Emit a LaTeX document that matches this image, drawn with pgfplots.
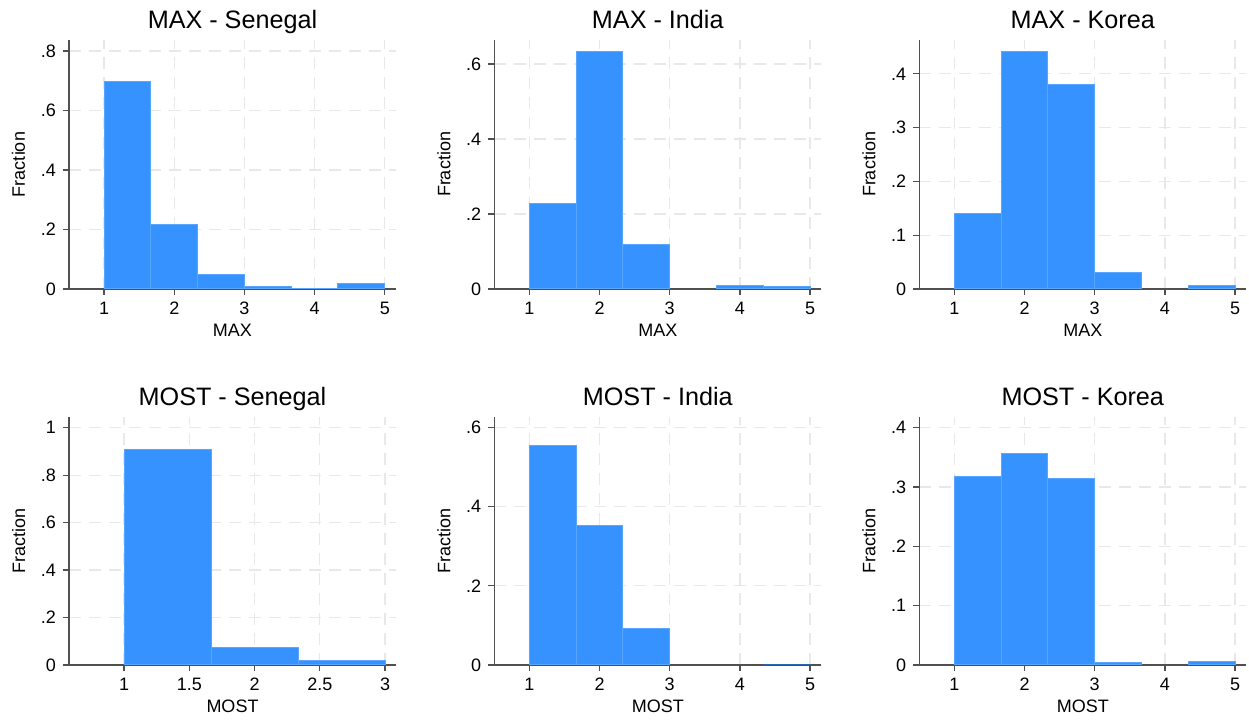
\documentclass[border=0pt]{standalone}
\usepackage{fontspec}
\setmainfont{Liberation Sans}
\usepackage{pgfplots}
\pgfplotsset{compat=1.18}
\definecolor{barfill}{HTML}{3592FF}
\definecolor{baredge}{HTML}{5AA6FF}
\definecolor{axgray}{HTML}{505050}
\definecolor{gridgray}{HTML}{E8E8E8}
\pgfplotsset{
  every axis title shift=0pt,
  statapanel/.style={
    scale only axis, width=163.5pt, anchor=south west,
    axis lines*=left,
    axis line style={draw=axgray, line width=0.6pt},
    tick align=outside, major tick length=3pt,
    tick style={draw=axgray, line width=0.6pt},
    grid=major,
    major grid style={dash pattern=on 6pt off 4pt, draw=gridgray, line width=0.6pt},
    ymin=0,
    ylabel={Fraction},
    /pgf/number format/assume math mode=true,
    tick label style={font=\fontsize{9}{10}\selectfont},
    label style={font=\fontsize{9}{10}\selectfont},
    title style={font=\fontsize{12.6}{14}\selectfont, at={([yshift=5.5pt]axis description cs:0.5,1)}, anchor=base, yshift=0pt},
    xlabel style={at={([yshift=-24pt]axis description cs:0.5,0)}, anchor=base},
    ylabel style={at={([xshift=-22pt]axis description cs:0,0.5)}, anchor=base},
  },
  histbar/.style={ybar interval, fill=barfill, draw=baredge, line width=0.5pt},
}
\begin{document}
\begin{tikzpicture}
\path[use as bounding box] (0,0) rectangle (624.5pt,360.5pt);
% ---------------- Row 1 ----------------
\begin{axis}[statapanel, at={(34.5pt,216pt)}, height=124.5pt,
  title={MAX - Senegal}, xlabel={MAX},
  xmin=0.5, xmax=5.16, ymax=0.837,
  xtick={1,2,3,4,5}, xticklabels={1,2,3,4,5},
  ytick={0,0.2,0.4,0.6,0.8}, yticklabels={0,.2,.4,.6,.8}]
\addplot[histbar] coordinates {(1,0.699) (1.6667,0.2175) (2.3333,0.049) (3,0.009) (3.6667,0.003) (4.3333,0.017) (5,0.017)};
\end{axis}
\begin{axis}[statapanel, at={(247.15pt,216pt)}, height=124.5pt,
  title={MAX - India}, xlabel={MAX},
  xmin=0.5, xmax=5.16, ymax=0.664,
  xtick={1,2,3,4,5}, xticklabels={1,2,3,4,5},
  ytick={0,0.2,0.4,0.6}, yticklabels={0,.2,.4,.6}]
\addplot[histbar] coordinates {(1,0.229) (1.6667,0.634) (2.3333,0.119) (3,0)};
\addplot[histbar] coordinates {(3.6667,0.009) (4.3333,0.007) (5,0.007)};
\end{axis}
\begin{axis}[statapanel, at={(459.65pt,216pt)}, height=124.5pt,
  title={MAX - Korea}, xlabel={MAX},
  xmin=0.5, xmax=5.16, ymax=0.463,
  xtick={1,2,3,4,5}, xticklabels={1,2,3,4,5},
  ytick={0,0.1,0.2,0.3,0.4}, yticklabels={0,.1,.2,.3,.4}]
\addplot[histbar] coordinates {(1,0.1395) (1.6667,0.442) (2.3333,0.381) (3,0.031) (3.6667,0)};
\addplot[histbar] coordinates {(4.3333,0.0068) (5,0.0068)};
\end{axis}
% ---------------- Row 2 ----------------
\begin{axis}[statapanel, at={(34.5pt,28pt)}, height=124pt,
  title={MOST - Senegal}, xlabel={MOST},
  xmin=0.578, xmax=3.084, ymax=1.045,
  xtick={1,1.5,2,2.5,3}, xticklabels={1,1.5,2,2.5,3},
  ytick={0,0.2,0.4,0.6,0.8,1}, yticklabels={0,.2,.4,.6,.8,1}]
\addplot[histbar] coordinates {(1,0.907) (1.6667,0.073) (2.3333,0.017) (3,0.017)};
\end{axis}
\begin{axis}[statapanel, at={(247.15pt,28pt)}, height=124pt,
  title={MOST - India}, xlabel={MOST},
  xmin=0.5, xmax=5.16, ymax=0.627,
  xtick={1,2,3,4,5}, xticklabels={1,2,3,4,5},
  ytick={0,0.2,0.4,0.6}, yticklabels={0,.2,.4,.6}]
\addplot[histbar] coordinates {(1,0.555) (1.6667,0.353) (2.3333,0.091) (3,0)};
\addplot[histbar, fill=barfill!70!black, draw=barfill!70!black] coordinates {(4.3333,0.001) (5,0.001)};
\end{axis}
\begin{axis}[statapanel, at={(459.65pt,28pt)}, height=124pt,
  title={MOST - Korea}, xlabel={MOST},
  xmin=0.5, xmax=5.16, ymax=0.418,
  xtick={1,2,3,4,5}, xticklabels={1,2,3,4,5},
  ytick={0,0.1,0.2,0.3,0.4}, yticklabels={0,.1,.2,.3,.4}]
\addplot[histbar] coordinates {(1,0.318) (1.6667,0.357) (2.3333,0.315) (3,0.005) (3.6667,0)};
\addplot[histbar] coordinates {(4.3333,0.006) (5,0.006)};
\end{axis}
\end{tikzpicture}
\end{document}
